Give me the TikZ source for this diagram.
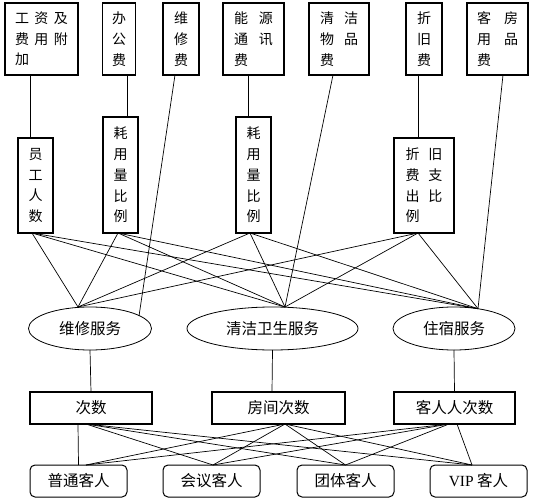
\documentclass[tikz,border=0pt]{standalone}
\usepackage{fontspec}
\setmainfont{Liberation Serif}
\newfontfamily\cjk{Noto Sans CJK SC}
\usetikzlibrary{shapes.geometric}
\newcommand\gp[1]{\hspace{#1pt}}
\begin{document}
\begin{tikzpicture}[x=1pt,y=-1pt,
  lbl/.style={font=\cjk\fontsize{14}{20.7}\selectfont},
  lbl2/.style={font=\cjk\fontsize{15.5}{18}\selectfont},
  topbox/.style={lbl,draw,line width=1.2pt,inner sep=0pt,outer sep=0pt,align=left,minimum height=72pt},
  vbox/.style={lbl,draw,line width=1.2pt,inner sep=0pt,outer sep=0pt,align=left},
  svc/.style={lbl2,draw,ellipse,line width=0.8pt,inner sep=0pt,outer sep=0pt,minimum width=123pt,minimum height=43pt},
  cnt/.style={lbl2,draw,line width=1.2pt,inner sep=0pt,outer sep=0pt,minimum height=32pt},
  cust/.style={lbl2,draw,line width=1pt,rounded corners=5pt,inner sep=0pt,outer sep=0pt,minimum width=97pt,minimum height=32pt},
  conn/.style={line width=0.7pt}]
\useasboundingbox (0,0) rectangle (537,502);
% top row
\node[topbox,minimum width=73pt] (t1) at (41.5,39) {工\gp{5.5}资\gp{5.5}及\\费\gp{5.5}用\gp{5.5}附\\加};
\node[topbox,minimum width=33pt] (t2) at (119,39) {办\\公\\费};
\node[topbox,minimum width=36pt] (t3) at (181,39) {维\\修\\费};
\node[topbox,minimum width=61pt] (t4) at (253.5,39) {能\gp{11}源\\通\gp{11}讯\\费};
\node[topbox,minimum width=60pt] (t5) at (339,39) {清\gp{10}洁\\物\gp{10}品\\费};
\node[topbox,minimum width=36pt] (t6) at (424,39) {折\\旧\\费};
\node[topbox,minimum width=61pt] (t7) at (497.5,39) {客\gp{13}房\\用\gp{13}品\\费};
% second row
\node[vbox,minimum width=35pt,minimum height=95pt] (r1) at (35.5,185.5) {员\\工\\人\\数};
\node[vbox,minimum width=35pt,minimum height=116pt] (r2) at (120.5,175) {耗\\用\\量\\比\\例};
\node[vbox,minimum width=35pt,minimum height=116pt] (r3) at (253.5,175) {耗\\用\\量\\比\\例};
\node[vbox,minimum width=60pt,minimum height=95pt] (r4) at (424,185.5) {折\gp{9}旧\\费\gp{9}支\\出\gp{9}比\\例};
% services
\node[svc] (e1) at (90,328.5) {维修服务};
\node[svc,minimum width=171pt] (e2) at (272.5,328.5) {清洁卫生服务};
\node[svc,minimum width=122pt] (e3) at (454,328.5) {住宿服务};
% counts
\node[cnt,minimum width=122pt] (m1) at (91,408) {次数};
\node[cnt,minimum width=133pt] (m2) at (278.5,408) {房间次数};
\node[cnt,minimum width=121pt] (m3) at (454.5,408) {客人人次数};
% customers
\node[cust] (b1) at (78.5,481) {普通客人};
\node[cust] (b2) at (211.5,481) {会议客人};
\node[cust] (b3) at (345.5,481) {团体客人};
\node[cust] (b4) at (478.5,481) {{\rmfamily VIP} 客人};
% connection points
\coordinate (p1) at ([xshift=-3.5pt]r1.south);
\coordinate (p2) at ([xshift=-2.5pt]r2.south);
\coordinate (p3) at ([xshift=-3.5pt]r3.south);
\coordinate (p4) at ([xshift=-6pt]r4.south);
\coordinate (e1t) at ([xshift=-12pt]e1.north);
\coordinate (e2t) at ([xshift=12.5pt]e2.north);
\coordinate (e3t) at ([xshift=24pt,yshift=-1.7pt]e3.north);
\coordinate (e1r) at ([xshift=49pt,yshift=12.5pt]e1.center);
\coordinate (q1) at ([xshift=-5pt]m1.south);
\coordinate (q2) at ([xshift=6.5pt]m2.south);
\coordinate (q3) at ([xshift=-5.5pt]m3.south);
\coordinate (q3b) at ([xshift=2.5pt]m3.south);
\coordinate (c1) at ([xshift=7.5pt]b1.north);
\coordinate (c2) at ([xshift=1.5pt]b2.north);
\coordinate (c3) at (b3.north);
\coordinate (c4) at ([xshift=-6.5pt]b4.north);
% top to second row
\draw[conn] ([xshift=-11.5pt]t1.south) -- ([xshift=-5.5pt]r1.north);
\draw[conn] ([xshift=8pt]t2.south) -- ([xshift=6.5pt]r2.north);
\draw[conn] ([xshift=-5.5pt]t4.south) -- ([xshift=-5.5pt]r3.north);
\draw[conn] ([xshift=-6pt]t6.south) -- ([xshift=-6pt]r4.north);
% direct top to services
\draw[conn] ([xshift=-6pt]t3.south) -- (e1r);
\draw[conn] ([xshift=-6pt]t5.south) -- (e2t);
\draw[conn] ([xshift=5.5pt]t7.south) -- (e3t);
% second row to services
\foreach \p in {p1,p2,p3,p4}{
  \foreach \e in {e1t,e2t,e3t}{
    \draw[conn] (\p) -- (\e);
  }
}
% services to counts
\draw[conn] (e1.south) -- (m1.north);
\draw[conn] (e2.south) -- ([xshift=-6.5pt]m2.north);
\draw[conn] (e3.south) -- (m3.north);
% counts to customers
\draw[conn] ([xshift=-13pt]m1.south) -- (b1.north);
\draw[conn] (q1) -- (c2);
\draw[conn] (q1) -- (c3);
\draw[conn] (q1) -- (c4);
\draw[conn] (q2) -- (c1);
\draw[conn] (q2) -- (c2);
\draw[conn] (q2) -- (c3);
\draw[conn] (q2) -- (c4);
\draw[conn] (q3) -- (c1);
\draw[conn] (q3) -- (c2);
\draw[conn] (q3) -- (c3);
\draw[conn] (q3b) -- (c4);
\end{tikzpicture}
\end{document}
